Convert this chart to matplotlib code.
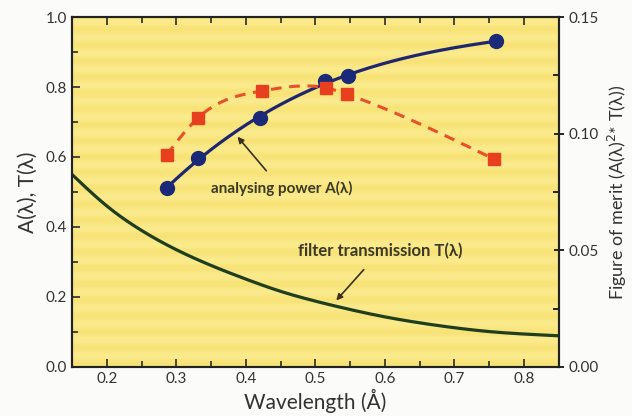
import numpy as np
import matplotlib
matplotlib.use("Agg")
import matplotlib.pyplot as plt

plt.rcParams['font.family'] = ['Lato', 'DejaVu Sans']

# Analysing power A(lambda)
wl_a = [0.287, 0.331, 0.421, 0.514, 0.547, 0.760]
power = [0.511, 0.597, 0.711, 0.817, 0.831, 0.931]

# Figure of merit A^2 T (right axis)
wl_f = [0.286, 0.331, 0.423, 0.516, 0.545, 0.757]
merit = [0.0909, 0.1067, 0.1183, 0.1196, 0.1170, 0.0891]

# Filter transmission T(lambda)
wl_t = [0.15, 0.20, 0.25, 0.30, 0.35, 0.40, 0.45, 0.50, 0.55, 0.60,
        0.65, 0.70, 0.75, 0.80, 0.85]
trans = [0.550, 0.460, 0.390, 0.335, 0.290, 0.251, 0.216, 0.188, 0.164,
         0.143, 0.126, 0.112, 0.101, 0.094, 0.089]


def natural_spline(x, y, n=300):
    x = np.asarray(x, float)
    y = np.asarray(y, float)
    k = len(x)
    h = np.diff(x)
    A = np.zeros((k, k))
    r = np.zeros(k)
    A[0, 0] = A[-1, -1] = 1.0
    for i in range(1, k - 1):
        A[i, i - 1] = h[i - 1]
        A[i, i] = 2 * (h[i - 1] + h[i])
        A[i, i + 1] = h[i]
        r[i] = 3 * ((y[i + 1] - y[i]) / h[i] - (y[i] - y[i - 1]) / h[i - 1])
    c = np.linalg.solve(A, r)
    b = (np.diff(y) / h) - h * (2 * c[:-1] + c[1:]) / 3
    d = np.diff(c) / (3 * h)
    xs = np.linspace(x[0], x[-1], n)
    idx = np.clip(np.searchsorted(x, xs) - 1, 0, k - 2)
    dx = xs - x[idx]
    ys = y[idx] + b[idx] * dx + c[idx] * dx ** 2 + d[idx] * dx ** 3
    return xs, ys


def smooth_fit(x, y, deg=3, n=300):
    coef = np.polyfit(x, y, deg)
    xs = np.linspace(min(x), max(x), n)
    return xs, np.polyval(coef, xs)


fig = plt.figure(figsize=(6.32, 4.16), dpi=100)
fig.patch.set_facecolor('#fbfbf9')
ax = fig.add_axes([0.114, 0.118, 0.770, 0.841])
ax.set_xlim(0.15, 0.85)
ax.set_ylim(0.0, 1.0)

# striped yellow panel
rows = np.arange(350)
band = 0.5 + 0.5 * np.sin(rows / 350 * 2 * np.pi * 22)
c1 = np.array([0.972, 0.890, 0.47])
c2 = np.array([0.982, 0.920, 0.55])
img = c1[None, :] * (1 - band[:, None]) + c2[None, :] * band[:, None]
img = np.repeat(img[:, None, :], 2, axis=1)
ax.imshow(img, extent=[0, 1, 0, 1], transform=ax.transAxes, aspect='auto',
          interpolation='bilinear', zorder=0)

ink = '#2a2a2a'
xt, yt = natural_spline(wl_t, trans)
ax.plot(xt, yt, color='#1f3d1f', lw=2.3, zorder=3)
xs, ys = smooth_fit(wl_a, power, 3)
ax.plot(xs, ys, color='#1f2670', lw=2.3, zorder=4)
ax.plot(wl_a, power, 'o', color='#1a2a78', ms=10, zorder=5)

ax2 = ax.twinx()
ax2.set_ylim(0.0, 0.15)
xf, yf = natural_spline(wl_f, merit)
ax2.plot(xf, yf, color='#e8502a', lw=2.2, ls=(0, (3.5, 2.5)), zorder=3)
ax2.plot(wl_f, merit, 's', color='#e8401f', ms=8, zorder=4)

ax.set_xticks([0.2, 0.3, 0.4, 0.5, 0.6, 0.7, 0.8])
ax.set_xticks(np.arange(0.25, 0.85, 0.1), minor=True)
ax.set_yticks([0.0, 0.2, 0.4, 0.6, 0.8, 1.0])
ax.set_yticks([0.1, 0.3, 0.5, 0.7, 0.9], minor=True)
ax.set_xticklabels(['0.2', '0.3', '0.4', '0.5', '0.6', '0.7', '0.8'])
ax.set_yticklabels(['0.0', '0.2', '0.4', '0.6', '0.8', '1.0'])
ax2.set_yticks([0.0, 0.05, 0.10, 0.15])
ax2.set_yticks([0.025, 0.075, 0.125], minor=True)
ax2.set_yticklabels(['0.00', '0.05', '0.10', '0.15'])

ax.tick_params(axis='both', which='both', direction='in', top=True,
               colors=ink, labelsize=11, width=1.2, labelcolor='#333333')
ax.tick_params(axis='both', which='major', length=6)
ax.tick_params(axis='both', which='minor', length=4)
ax.tick_params(axis='y', which='both', right=False)
ax2.tick_params(axis='y', which='major', direction='inout', length=7,
                width=1.2, labelsize=11, labelcolor='#333333')
ax2.tick_params(axis='y', which='minor', direction='in', length=4, width=1.2)
for a in (ax, ax2):
    for s in a.spines.values():
        s.set_linewidth(1.5)
        s.set_color('#222222')

ax.set_xlabel('Wavelength (Å)', fontsize=15, color='#333333', labelpad=2)
ax.set_ylabel('A(λ), T(λ)', fontsize=15, color='#333333', labelpad=6)
ax2.set_ylabel('Figure of merit (A(λ)$^2$* T(λ))', fontsize=13,
               color='#333333', labelpad=5)

ax.annotate('analysing power A(λ)', xy=(0.388, 0.658), xytext=(0.451, 0.51),
            ha='center', va='center', fontsize=11, fontweight='bold',
            color='#3a3a2a',
            arrowprops=dict(arrowstyle='-|>', color='#3a3020', lw=1.2,
                            mutation_scale=9, shrinkA=7, shrinkB=0))
ax.annotate('filter transmission T(λ)', xy=(0.53, 0.19), xytext=(0.593, 0.33),
            ha='center', va='center', fontsize=12, fontweight='bold',
            color='#3a3a2a',
            arrowprops=dict(arrowstyle='-|>', color='#3a3020', lw=1.2,
                            mutation_scale=9, shrinkA=7, shrinkB=0))

fig.savefig('out.png', dpi=100, facecolor=fig.get_facecolor())
